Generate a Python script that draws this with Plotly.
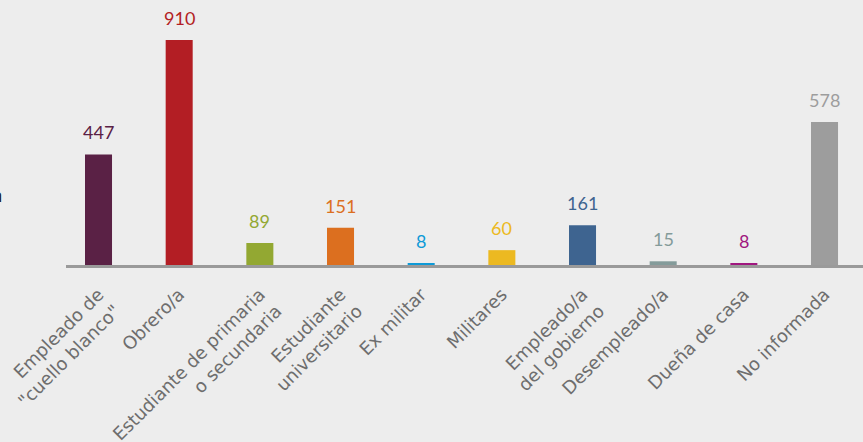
import plotly.graph_objects as go

categories = [
    "Empleado de<br>\"cuello blanco\"",
    "Obrero/a",
    "Estudiante de primaria<br>o secundaria",
    "Estudiante<br>universitario",
    "Ex militar",
    "Militares",
    "Empleado/a<br>del gobierno",
    "Desempleado/a",
    "Dueña de casa",
    "No informada",
]
values = [447, 910, 89, 151, 8, 60, 161, 15, 8, 578]
colors = ["#5a2145", "#b31e24", "#93a832", "#dc6f1f", "#0e9ad7",
          "#ecb921", "#3e6490", "#849b9a", "#a0177f", "#9d9d9d"]

fig = go.Figure()
fig.add_trace(go.Bar(
    x=list(range(len(categories))),
    y=values,
    marker=dict(color=colors, line=dict(width=0)),
    width=0.335,
    hoverinfo="skip",
))

# value labels above bars, same colour as the bar
for i, (v, c) in enumerate(zip(values, colors)):
    fig.add_annotation(
        x=i, y=v, text=str(v), showarrow=False,
        yanchor="bottom", yshift=9,
        font=dict(family="Lato", size=18, color=c),
    )

# cut-off text at the left edge
fig.add_annotation(
    xref="paper", yref="paper", x=(4 - 66) / 797, y=(265 - 195) / 255,
    xanchor="right", yanchor="middle", text="<b>a</b>", showarrow=False,
    font=dict(family="Open Sans", size=17, color="#222222"),
)

fig.update_layout(
    width=863, height=442,
    margin=dict(l=66, r=0, t=10, b=177),
    paper_bgcolor="#ededed",
    plot_bgcolor="#ededed",
    showlegend=False,
    xaxis=dict(
        range=[-0.403, 9.477],
        tickmode="array",
        tickvals=list(range(len(categories))),
        ticktext=categories,
        tickangle=-45,
        tickfont=dict(family="DejaVu Sans", size=18, color="#6e6e6e"),
        showgrid=False, zeroline=False,
        showline=True, linecolor="#9a9a9a", linewidth=3,
        ticks="outside", ticklen=9, tickcolor="#ededed",
        automargin=False, ticklabeloverflow="allow",
    ),
    yaxis=dict(
        range=[0, 1031], visible=False, showgrid=False, zeroline=False,
        automargin=False,
    ),
)

fig.write_html(
    "out.html",
    config={"displayModeBar": False},
    post_script="document.body.style.margin='0';"
                "document.body.style.background='#ededed';",
)
